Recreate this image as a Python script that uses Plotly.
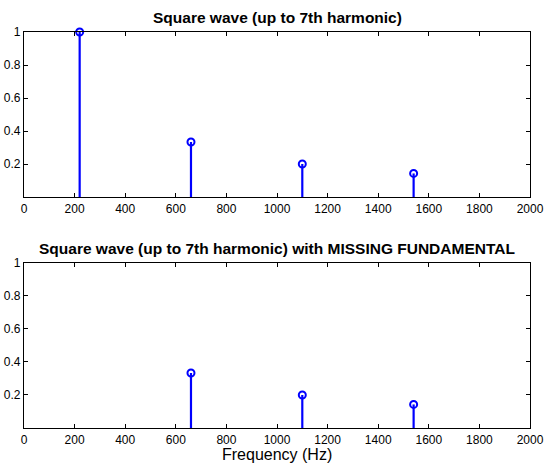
import plotly.graph_objects as go
from plotly.subplots import make_subplots

freqs_full = [220, 660, 1100, 1540]
amps_full = [1.0, 1/3, 1/5, 1/7]
freqs_missing = [660, 1100, 1540]
amps_missing = [1/3, 1/5, 1/7]
titles = ["Square wave (up to 7th harmonic)",
          "Square wave (up to 7th harmonic) with MISSING FUNDAMENTAL"]
x_label = "Frequency (Hz)"
x_ticks = list(range(0, 2001, 200))
y_ticks = [0.2, 0.4, 0.6, 0.8, 1]
y_tick_text = ["0.2", "0.4", "0.6", "0.8", "1"]

BLUE = "rgb(0,0,255)"
FONT = "Liberation Sans, Arial, sans-serif"

fig = make_subplots(rows=2, cols=1, vertical_spacing=0.1666)

def stems(xs, ys):
    lx, ly = [], []
    for x, y in zip(xs, ys):
        lx += [x, x, None]
        ly += [0, y, None]
    return lx, ly

for row, (xs, ys) in enumerate([(freqs_full, amps_full), (freqs_missing, amps_missing)], start=1):
    lx, ly = stems(xs, ys)
    fig.add_trace(go.Scatter(x=lx, y=ly, mode="lines", line=dict(color=BLUE, width=2.2),
                             showlegend=False, hoverinfo="skip", cliponaxis=False),
                  row=row, col=1)
    fig.add_trace(go.Scatter(x=xs, y=ys, mode="markers", cliponaxis=False,
                             marker=dict(symbol="circle-open", size=7, color=BLUE,
                                         line=dict(color=BLUE, width=2)),
                             showlegend=False), row=row, col=1)

fig.update_layout(
    width=555, height=464,
    margin=dict(l=24, r=25, t=32, b=36),
    plot_bgcolor="white", paper_bgcolor="white",
    font=dict(family=FONT, size=12, color="black"),
)
fig.update_layout(yaxis=dict(domain=[0.5833, 1.0]), yaxis2=dict(domain=[0.0, 0.4167]))

fig.update_xaxes(range=[0, 2000], tickvals=x_ticks, ticks="inside", ticklen=4,
                 tickcolor="black", showline=True, linecolor="black", linewidth=1.3,
                 mirror="ticks", showgrid=False, zeroline=False, automargin=False,
                 tickfont=dict(family=FONT, size=12, color="black"))
fig.update_yaxes(range=[0, 1], tickvals=y_ticks, ticktext=y_tick_text, ticks="inside",
                 ticklen=4, tickcolor="black", showline=True, linecolor="black",
                 linewidth=1.3, mirror="ticks", showgrid=False, zeroline=False,
                 automargin=False,
                 tickfont=dict(family=FONT, size=12, color="black"))

fig.add_annotation(text=x_label, xref="paper", yref="paper",
                   x=0.5, y=0.0, yshift=-26, xanchor="center", yanchor="middle",
                   showarrow=False, font=dict(family=FONT, size=16))

fig.add_annotation(text="<b>" + titles[0] + "</b>", xref="paper", yref="paper",
                   x=0.5, y=1.0, yshift=4, xanchor="center", yanchor="bottom",
                   showarrow=False, font=dict(family=FONT, size=15.5))
fig.add_annotation(text="<b>" + titles[1] + "</b>", xref="paper", yref="paper",
                   x=0.5, y=0.4167, yshift=4, xanchor="center", yanchor="bottom",
                   showarrow=False, font=dict(family=FONT, size=15.5))

fig.write_html("out.html")
